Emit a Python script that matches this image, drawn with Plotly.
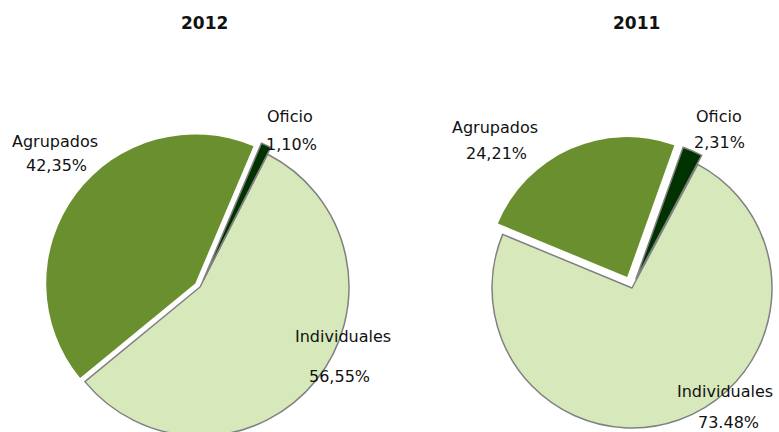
import plotly.graph_objects as go

# ---- data ----
categories = ["Individuales", "Agrupados", "Oficio"]
values_2012 = [56.55, 42.35, 1.10]
values_2011 = [73.48, 24.21, 2.31]
pct_text_2012 = ["56,55%", "42,35%", "1,10%"]
pct_text_2011 = ["73.48%", "24,21%", "2,31%"]
titles = ["2012", "2011"]

# ---- style ----
W, H = 800, 470
colors = ["#d7e8bb", "#6a8f2e", "#013301"]
line_colors = ["#808080", "#6a8f2e", "#808080"]
line_widths = [1.5, 0, 1.5]
FONT = "DejaVu Sans"
TXT = "#111111"


def px_domain(cx, cy, r, max_pull):
    half = r * (1 + max_pull)
    return dict(x=[(cx - half) / W, (cx + half) / W],
                y=[1 - (cy + half) / H, 1 - (cy - half) / H])


fig = go.Figure()
fig.add_trace(go.Pie(
    labels=categories, values=values_2012, sort=False, direction="clockwise",
    rotation=27, pull=[0, 0.04, 0.05], textinfo="none", hoverinfo="skip",
    marker=dict(colors=colors, line=dict(color=line_colors, width=line_widths)),
    domain=px_domain(200, 287, 149, 0.05), showlegend=False))
fig.add_trace(go.Pie(
    labels=categories, values=values_2011, sort=False, direction="clockwise",
    rotation=28, pull=[0, 0.085, 0.07], textinfo="none", hoverinfo="skip",
    marker=dict(colors=colors, line=dict(color=line_colors, width=line_widths)),
    domain=px_domain(632, 288, 140, 0.085), showlegend=False))

annotations = []


def ann(text, px, py, size=16, bold=False, family=FONT):
    annotations.append(dict(
        text=f"<b>{text}</b>" if bold else text, x=px / W, y=1 - py / H,
        xref="paper", yref="paper", xanchor="center", yanchor="middle",
        showarrow=False, font=dict(family=family, size=size, color=TXT)))


ann(titles[0], 204, 23, size=17, bold=True)
ann(titles[1], 636, 23, size=17, bold=True)

# 2012 labels
label_pos_2012 = [((343, 336), (339, 376)), ((55, 141), (56, 166)), ((290, 117), (291, 144))]
for cat, pct, (lp, pp) in zip(categories, pct_text_2012, label_pos_2012):
    ann(cat, *lp)
    ann(pct, *pp)

# 2011 labels
label_pos_2011 = [((725, 391), (728, 422)), ((495, 128), (496, 154)), ((719, 116), (719, 142))]
for cat, pct, (lp, pp) in zip(categories, pct_text_2011, label_pos_2011):
    ann(cat, *lp)
    ann(pct, *pp)

fig.update_layout(
    width=W, height=H, margin=dict(l=0, r=0, t=0, b=0),
    paper_bgcolor="white", plot_bgcolor="white",
    annotations=annotations)

fig.write_html(
    "out.html",
    post_script="document.documentElement.style.overflow='hidden';"
                "document.body.style.overflow='hidden';document.body.style.margin='0';")
